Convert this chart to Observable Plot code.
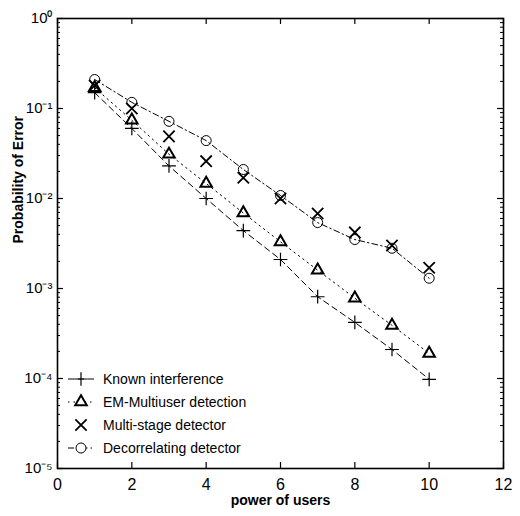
<!DOCTYPE html>
<html><head><meta charset="utf-8">
<script src="https://cdn.jsdelivr.net/npm/d3@7"></script>
<script src="https://cdn.jsdelivr.net/npm/@observablehq/plot@0.6"></script>
<style>body{margin:0;background:#fff} svg{font-family:Arial,"Liberation Sans",Helvetica,sans-serif}</style>
</head><body><div id="chart"></div><script>
const users = [1,2,3,4,5,6,7,8,9,10];
const known = [0.15,0.06,0.023,0.010,0.0044,0.0021,0.00081,0.00042,0.00021,0.000098];
const emMultiuser = [0.17,0.074,0.031,0.0147,0.0069,0.0033,0.0016,0.00078,0.00039,0.00019];
const multiStage = [0.18,0.10,0.049,0.026,0.017,0.010,0.0068,0.0042,0.0030,0.0017];
const decorrelating = [0.21,0.117,0.072,0.044,0.021,0.0108,0.0054,0.0035,0.0028,0.0013];
const seriesNames = ["Known interference","EM-Multiuser detection","Multi-stage detector","Decorrelating detector"];
const xTicks = [0,2,4,6,8,10,12];
const yTicks = [1e-5,1e-4,1e-3,1e-2,1e-1,1];
const yTickLabels = ["10⁻⁵","10⁻⁴","10⁻³","10⁻²","10⁻¹","10⁰"];
const xLabel = "power of users";
const yLabel = "Probability of Error";

const styles = [
  {values: known, symbol: "plus", r: 4.5, sw: 1.2, dash: "6,4", line: true},
  {values: emMultiuser, symbol: "triangle2", r: 5.5, sw: 2, dash: "1.5,4", line: true},
  {values: multiStage, symbol: "times", r: 5.2, sw: 1.8, dash: null, line: false},
  {values: decorrelating, symbol: "circle", r: 5, sw: 1, dash: "6,3,1.5,3", line: true}
];
const rows = [];
styles.forEach((s, i) => users.forEach((u, j) => rows.push({series: seriesNames[i], x: u, y: s.values[j]})));

const minorY = [];
yTicks.slice(0, -1).forEach(t => { for (let k = 2; k <= 9; k++) minorY.push(t * k); });

const marks = [];
styles.forEach((s, i) => {
  const data = rows.filter(d => d.series === seriesNames[i]);
  if (s.line) marks.push(Plot.line(data, {x: "x", y: "y", stroke: "black", strokeWidth: 1, strokeDasharray: s.dash}));
  marks.push(Plot.dot(data, {x: "x", y: "y", symbol: () => s.symbol, r: s.r, stroke: "black", strokeWidth: s.sw, fill: "none"}));
});

const W = 520, H = 516, mL = 57, mR = 17, mT = 18, mB = 48;
const fh = H - mT - mB, fw = W - mL - mR;

const svg = Plot.plot({
  width: W, height: H,
  marginLeft: mL, marginRight: mR, marginTop: mT, marginBottom: mB,
  x: {domain: [0, 12]},
  y: {type: "log", domain: [1e-5, 1]},
  style: {fontFamily: "Arial, 'Liberation Sans', sans-serif", color: "black", background: "white"},
  marks: [
    Plot.axisX(xTicks, {tickSize: 0, tickPadding: 10, fontSize: 16, label: null, tickFormat: d => String(d)}),
    Plot.axisY(yTicks, {tickSize: 0, tickPadding: 5, fontSize: 15, label: null, tickFormat: d => yTickLabels[yTicks.indexOf(d)]}),
    Plot.tickX(xTicks, {x: d => d, insetTop: fh - 6, stroke: "black", strokeWidth: 1.2}),
    Plot.tickX(xTicks, {x: d => d, insetBottom: fh - 6, stroke: "black", strokeWidth: 1.2}),
    Plot.tickY(yTicks, {y: d => d, insetRight: fw - 6, stroke: "black", strokeWidth: 1.2}),
    Plot.tickY(yTicks, {y: d => d, insetLeft: fw - 6, stroke: "black", strokeWidth: 1.2}),
    Plot.tickY(minorY, {y: d => d, insetRight: fw - 3, stroke: "black", strokeWidth: 1}),
    Plot.tickY(minorY, {y: d => d, insetLeft: fw - 3, stroke: "black", strokeWidth: 1}),
    ...marks,
    Plot.frame({stroke: "black", strokeWidth: 1.6}),
    Plot.text([xLabel], {frameAnchor: "bottom", dy: 36, text: d => d, fontWeight: "bold", fontSize: 14}),
    Plot.text([yLabel], {frameAnchor: "left", dx: -39, rotate: -90, text: d => d, fontWeight: "bold", fontSize: 14})
  ]
});

// legend inside the frame (lower left)
const g = d3.select(svg).append("g").attr("font-size", 14).attr("text-anchor", "start")
  .attr("font-family", "Arial, 'Liberation Sans', sans-serif");
const symMap = {plus: d3.symbolPlus, triangle2: d3.symbolTriangle2, times: d3.symbolTimes, circle: d3.symbolCircle};
styles.forEach((s, i) => {
  const yy = 379 + i * 23;
  if (s.line) g.append("line").attr("x1", 68).attr("x2", 95).attr("y1", yy).attr("y2", yy)
    .attr("stroke", "black").attr("stroke-width", 1).attr("stroke-dasharray", s.dash);
  g.append("path").attr("d", d3.symbol(symMap[s.symbol], Math.PI * s.r * s.r)())
    .attr("transform", `translate(81,${yy})`).attr("fill", "white").attr("stroke", "black").attr("stroke-width", s.sw);
  g.append("text").attr("x", 103).attr("y", yy).attr("dy", "0.35em").attr("text-anchor", "start").text(seriesNames[i]);
});

document.getElementById("chart").appendChild(svg);
</script></body></html>
